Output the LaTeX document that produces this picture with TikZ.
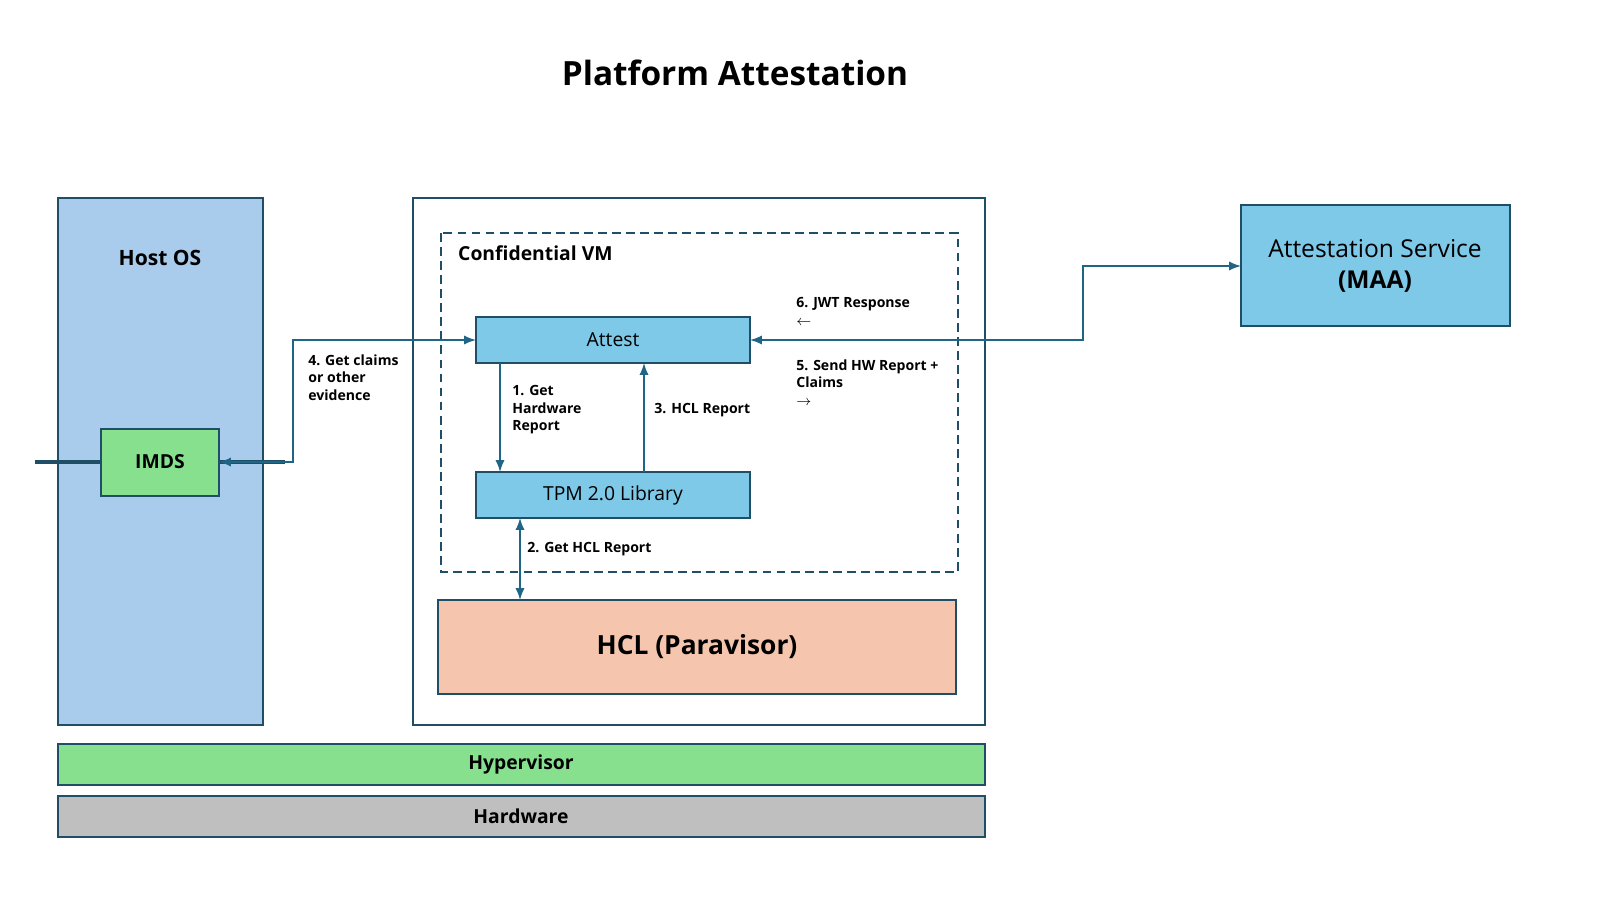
\documentclass[tikz,border=0pt]{standalone}
\usepackage{fontspec}
\setmainfont{Open Sans}
\begin{document}
\begin{tikzpicture}[x=0.02cm,y=-0.02cm,
 bx/.style={draw=edge,line width=1.2pt},
 ar/.style={draw=arr,line width=1.3pt,-latex},
 lb/.style={font=\bfseries\fontsize{8}{10}\selectfont,align=left,anchor=north west,inner sep=0pt}]
\definecolor{edge}{HTML}{1F4E66}
\definecolor{arr}{HTML}{1F6585}
\definecolor{hostc}{HTML}{A9CBEC}
\definecolor{grn}{HTML}{86E08D}
\definecolor{blu}{HTML}{7EC8E8}
\definecolor{hclc}{HTML}{F5C6AD}
\definecolor{hw}{HTML}{BFBFBF}
\useasboundingbox (0,0) rectangle (1600,900);
\node[font=\bfseries\fontsize{19}{22}\selectfont] (title) at (735,73) {Platform Attestation};
\draw[bx,fill=hostc] (58,198) rectangle (263,725);
\node[font=\bfseries\fontsize{12}{14}\selectfont] (host) at (160,258) {Host OS};
\draw[bx,fill=white] (413,198) rectangle (985,725);
\draw[edge,line width=1.2pt,dash pattern=on 5pt off 3pt] (441,233) rectangle (958,572);
\node[font=\bfseries\fontsize{11}{13}\selectfont,anchor=west] (cvm) at (452,253) {Confidential VM};
\node[bx,fill=grn,minimum width=118\pgflinewidth,inner sep=0pt] (imds) at (160,462) {};
\draw[bx,fill=grn] (101,429) rectangle (219,496);
\node[font=\bfseries\fontsize{11}{13}\selectfont] at (160,462) {IMDS};
\coordinate (imdsR) at (219,462);
\draw[bx,fill=blu] (476,317) rectangle (750,363);
\node[font=\fontsize{11}{13}\selectfont] (attest) at (613,340) {Attest};
\draw[bx,fill=blu] (476,472) rectangle (750,518);
\node[font=\fontsize{11}{13}\selectfont] (tpm) at (613,495) {TPM 2.0 Library};
\draw[bx,fill=hclc] (438,600) rectangle (956,694);
\node[font=\bfseries\fontsize{15}{18}\selectfont] (hcl) at (697,647) {HCL (Paravisor)};
\draw[bx,fill=grn] (58,744) rectangle (985,785);
\node[font=\bfseries\fontsize{11}{13}\selectfont] (hyp) at (521,764) {Hypervisor};
\draw[bx,fill=hw] (58,796) rectangle (985,837);
\node[font=\bfseries\fontsize{11}{13}\selectfont] (hwn) at (521,816) {Hardware};
\draw[bx,fill=blu] (1241,205) rectangle (1510,326);
\node[font=\fontsize{14}{18}\selectfont,align=center] (maa) at (1375,266) {Attestation Service\\\textbf{(MAA)}};
\coordinate (aL) at (476,340); \coordinate (aR) at (750,340);
\coordinate (mL) at (1241,266);
\draw[ar,latex-latex] (imdsR) -- (293,462) -- (293,340) -- (aL);
\draw[ar,latex-latex] (aR) -- (1083,340) -- (1083,266) -- (mL);
\draw[ar] (500,363) -- (500,472);
\draw[ar] (644,472) -- (644,363);
\draw[ar,latex-latex] (520,518) -- (520,600);
\node[lb] (l4) at (308,354) {4. Get claims\\or other\\evidence};
\node[lb] (l1) at (512,385) {1. Get\\Hardware\\Report};
\node[lb] (l3) at (654,403) {3. HCL Report};
\node[lb] (l2) at (527,542) {2. Get HCL Report};
\node[lb] (l6) at (796,297) {6. JWT Response\\$\leftarrow$};
\node[lb] (l5) at (796,359) {5. Send HW Report +\\Claims\\$\rightarrow$};
\end{tikzpicture}
\end{document}
